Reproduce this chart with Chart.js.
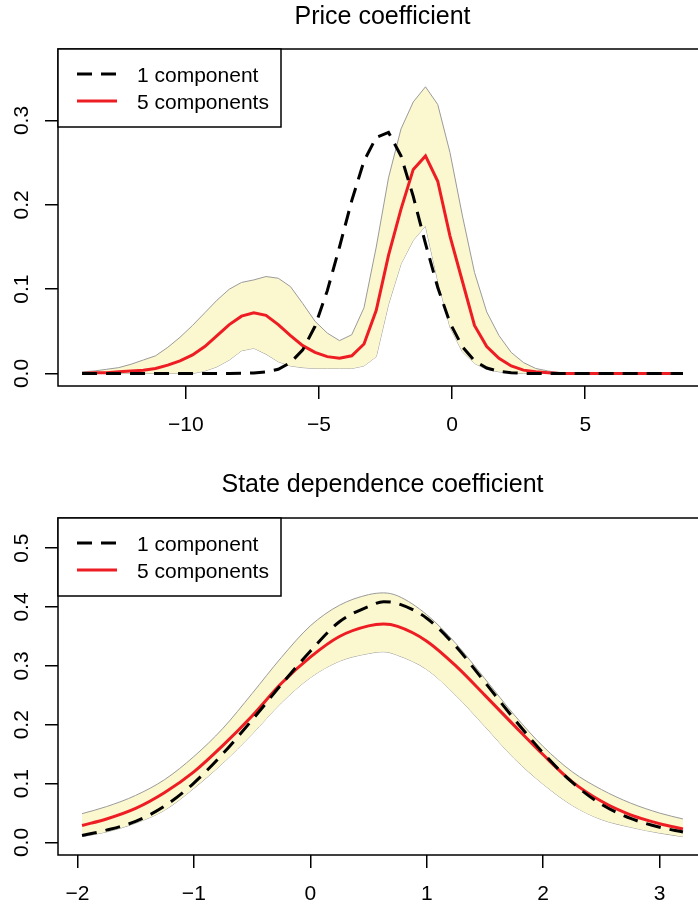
<!DOCTYPE html>
<html lang="en">
<head>
    <meta charset="UTF-8">
    <title>Price and state dependence coefficients</title>
    <script src="https://cdn.jsdelivr.net/npm/chart.js"></script>
    <style>
        html, body { margin: 0; padding: 0; background: #fff; width: 698px; height: 907px; overflow: hidden; }
        canvas { position: absolute; left: 0; }
    </style>
</head>
<body>
    <canvas id="price-chart" width="720" height="450" style="top:0"></canvas>
    <canvas id="state-chart" width="720" height="457" style="top:450px"></canvas>

    <script>
        // --- data ---
        const legendLabels = ['1 component', '5 components'];

        const priceX = [-13.90, -13.44, -12.98, -12.52, -12.06, -11.60, -11.14, -10.68, -10.22, -9.75,
                        -9.29, -8.83, -8.37, -7.91, -7.45, -6.99, -6.53, -6.07, -5.61, -5.15,
                        -4.69, -4.23, -3.77, -3.31, -2.85, -2.39, -1.92, -1.46, -1.00, -0.54,
                        -0.08, 0.38, 0.84, 1.30, 1.76, 2.22, 2.68, 3.14, 3.60, 4.06,
                        4.52, 4.99, 5.45, 5.91, 6.37, 6.83, 7.29, 7.75, 8.21, 8.67];
        const priceOne = [0, 0, 0, 0, 0, 0, 0, 0, 0, 0,
                          0, 0, 0, 0.0002, 0.0006, 0.002, 0.005, 0.013, 0.028, 0.056,
                          0.098, 0.150, 0.205, 0.252, 0.280, 0.286, 0.258, 0.210, 0.154, 0.102,
                          0.060, 0.032, 0.015, 0.0065, 0.0025, 0.001, 0, 0, 0, 0,
                          0, 0, 0, 0, 0, 0, 0, 0, 0, 0];
        const priceFive = [0, 0.001, 0.001, 0.002, 0.003, 0.004, 0.006, 0.010, 0.015, 0.022,
                           0.032, 0.045, 0.058, 0.068, 0.072, 0.069, 0.058, 0.045, 0.033, 0.025,
                           0.020, 0.018, 0.021, 0.035, 0.075, 0.140, 0.195, 0.242, 0.258, 0.228,
                           0.163, 0.110, 0.057, 0.032, 0.018, 0.009, 0.004, 0.002, 0.001, 0,
                           0, 0, 0, 0, 0, 0, 0, 0, 0, 0];
        const priceUpper = [0.002, 0.003, 0.005, 0.007, 0.011, 0.016, 0.021, 0.031, 0.043, 0.057,
                            0.072, 0.087, 0.100, 0.108, 0.111, 0.115, 0.113, 0.103, 0.083, 0.062,
                            0.048, 0.039, 0.046, 0.078, 0.150, 0.232, 0.290, 0.322, 0.340, 0.319,
                            0.262, 0.188, 0.120, 0.073, 0.045, 0.025, 0.013, 0.006, 0.003, 0.001,
                            0, 0, 0, 0, 0, 0, 0, 0, 0, 0];
        const priceLower = [0, 0, 0, 0, 0, 0, 0, 0, 0, 0,
                            0.003, 0.008, 0.016, 0.027, 0.030, 0.023, 0.014, 0.009, 0.007, 0.006,
                            0.006, 0.006, 0.006, 0.009, 0.020, 0.082, 0.130, 0.158, 0.175, 0.110,
                            0.055, 0.026, 0.012, 0.005, 0.002, 0.001, 0, 0, 0, 0,
                            0, 0, 0, 0, 0, 0, 0, 0, 0, 0];
        const priceXTicks = [-10, -5, 0, 5];
        const priceYTicks = [0, 0.1, 0.2, 0.3];
        const priceYLim = [0, 0.37];

        const stateX = [-1.96, -1.75, -1.5, -1.25, -1.0, -0.75, -0.5, -0.25, 0, 0.25, 0.5, 0.63,
                        0.75, 1.0, 1.25, 1.5, 1.75, 2.0, 2.25, 2.5, 2.75, 3.0, 3.2];
        const stateOne = [0.012, 0.021, 0.036, 0.062, 0.101, 0.151, 0.208, 0.268, 0.325, 0.375, 0.401, 0.409,
                          0.406, 0.381, 0.333, 0.272, 0.210, 0.152, 0.102, 0.065, 0.041, 0.026, 0.018];
        const stateFive = [0.029, 0.040, 0.058, 0.085, 0.120, 0.165, 0.215, 0.270, 0.315, 0.350, 0.368, 0.371,
                           0.367, 0.342, 0.300, 0.250, 0.199, 0.149, 0.103, 0.070, 0.047, 0.032, 0.023];
        const stateUpper = [0.049, 0.061, 0.080, 0.107, 0.146, 0.194, 0.253, 0.314, 0.368, 0.403, 0.421, 0.424,
                            0.419, 0.387, 0.338, 0.278, 0.217, 0.163, 0.120, 0.090, 0.067, 0.050, 0.040];
        const stateLower = [0.010, 0.018, 0.033, 0.055, 0.092, 0.135, 0.184, 0.237, 0.280, 0.308, 0.321, 0.324,
                            0.318, 0.294, 0.250, 0.197, 0.143, 0.099, 0.063, 0.039, 0.026, 0.016, 0.010];
        const stateXTicks = [-2, -1, 0, 1, 2, 3];
        const stateYTicks = [0, 0.1, 0.2, 0.3, 0.4, 0.5];
        const stateYLim = [0, 0.53];

        // --- look ---
        const FONT = '"Liberation Sans", Arial, Helvetica, sans-serif';
        const RED = '#EE1D24';
        const BAND = '#FBF7CE';
        const BAND_EDGE = '#9a9a9a';

        Chart.defaults.font.family = FONT;
        Chart.defaults.color = '#000';

        // R style: axis range padded by 4% on each side
        function padRange(lo, hi) {
            const d = (hi - lo) * 0.04;
            return [lo - d, hi + d];
        }

        function fmtX(v) {
            return (v < 0 ? '\u2212' : '') + Math.abs(v);
        }

        // box round the plot, rotated y labels and the legend
        const rFrame = {
            id: 'rFrame',
            afterDraw(chart) {
                const ctx = chart.ctx;
                const a = chart.chartArea;
                const ys = chart.scales.y;
                ctx.save();
                ctx.strokeStyle = '#000';
                ctx.lineWidth = 1.5;
                ctx.strokeRect(a.left, a.top, a.right - a.left, a.bottom - a.top);

                ctx.fillStyle = '#000';
                ctx.font = '21px ' + FONT;
                ctx.textAlign = 'center';
                ctx.textBaseline = 'alphabetic';
                ys.ticks.forEach(t => {
                    ctx.save();
                    ctx.translate(20, ys.getPixelForValue(t.value));
                    ctx.rotate(-Math.PI / 2);
                    ctx.fillText(t.value.toFixed(1), 0, 7.5);
                    ctx.restore();
                });

                // legend
                const lx = a.left, ly = a.top, lw = 223, lh = 78;
                ctx.fillStyle = '#fff';
                ctx.fillRect(lx, ly, lw, lh);
                ctx.strokeRect(lx, ly, lw, lh);
                chart.data.datasets.slice(0, 2).forEach((ds, i) => {
                    const y = ly + 25 + i * 27;
                    ctx.beginPath();
                    ctx.setLineDash(ds.borderDash || []);
                    ctx.strokeStyle = ds.borderColor;
                    ctx.lineWidth = ds.borderWidth;
                    ctx.moveTo(77, y);
                    ctx.lineTo(117, y);
                    ctx.stroke();
                    ctx.setLineDash([]);
                    ctx.fillStyle = '#000';
                    ctx.textAlign = 'left';
                    ctx.fillText(ds.label, 137, y + 7.5);
                });
                ctx.restore();
            }
        };

        function panel(canvasId, cfg) {
            const xr = padRange(Math.min(...cfg.x), Math.max(...cfg.x));
            const yr = padRange(cfg.ylim[0], cfg.ylim[1]);
            const pts = ys => cfg.x.map((x, i) => ({ x: x, y: ys[i] }));
            const curve = cfg.smooth ? { cubicInterpolationMode: 'monotone' } : { tension: 0 };
            const tickGrid = { drawOnChartArea: false, drawTicks: true, tickLength: 13, color: '#000', lineWidth: 1.5 };

            return new Chart(document.getElementById(canvasId), {
                type: 'line',
                data: {
                    datasets: [
                        Object.assign({ label: legendLabels[0], data: pts(cfg.one), borderColor: '#000', borderWidth: 3,
                            borderDash: [15, 9], pointRadius: 0, fill: false }, curve),
                        Object.assign({ label: legendLabels[1], data: pts(cfg.five), borderColor: RED, borderWidth: 3,
                            pointRadius: 0, fill: false }, curve),
                        Object.assign({ label: 'upper', data: pts(cfg.upper), borderColor: BAND_EDGE, borderWidth: 1,
                            pointRadius: 0, backgroundColor: BAND, fill: '+1' }, curve),
                        Object.assign({ label: 'lower', data: pts(cfg.lower), borderColor: BAND_EDGE, borderWidth: 1,
                            pointRadius: 0, fill: false }, curve)
                    ]
                },
                options: {
                    responsive: false,
                    animation: false,
                    events: [],
                    layout: { padding: { left: 0, right: 13, top: 0, bottom: 0 } },
                    plugins: {
                        legend: { display: false },
                        tooltip: { enabled: false },
                        title: {
                            display: true,
                            text: cfg.title,
                            fullSize: false,
                            color: '#000',
                            font: { size: 25, weight: 'normal' },
                            padding: cfg.titlePad
                        }
                    },
                    scales: {
                        x: {
                            type: 'linear',
                            min: xr[0],
                            max: xr[1],
                            border: { display: false },
                            grid: tickGrid,
                            ticks: {
                                includeBounds: false,
                                autoSkip: false,
                                maxRotation: 0,
                                padding: 14,
                                color: '#000',
                                font: { size: 21 },
                                callback: v => fmtX(v)
                            },
                            afterBuildTicks: s => { s.ticks = cfg.xTicks.map(v => ({ value: v })); },
                            afterFit: s => { s.height = cfg.xAxisHeight; }
                        },
                        y: {
                            type: 'linear',
                            min: yr[0],
                            max: yr[1],
                            border: { display: false },
                            grid: tickGrid,
                            ticks: { display: false },
                            afterBuildTicks: s => { s.ticks = cfg.yTicks.map(v => ({ value: v })); },
                            afterFit: s => { s.width = 58; }
                        }
                    }
                },
                plugins: [rFrame]
            });
        }

        panel('price-chart', {
            title: 'Price coefficient',
            titlePad: { top: 2, bottom: 17 },
            x: priceX, one: priceOne, five: priceFive, upper: priceUpper, lower: priceLower,
            xTicks: priceXTicks, yTicks: priceYTicks, ylim: priceYLim,
            smooth: false,
            xAxisHeight: 64
        });

        panel('state-chart', {
            title: 'State dependence coefficient',
            titlePad: { top: 20, bottom: 18 },
            x: stateX, one: stateOne, five: stateFive, upper: stateUpper, lower: stateLower,
            xTicks: stateXTicks, yTicks: stateYTicks, ylim: stateYLim,
            smooth: true,
            xAxisHeight: 52
        });
    </script>
</body>
</html>
